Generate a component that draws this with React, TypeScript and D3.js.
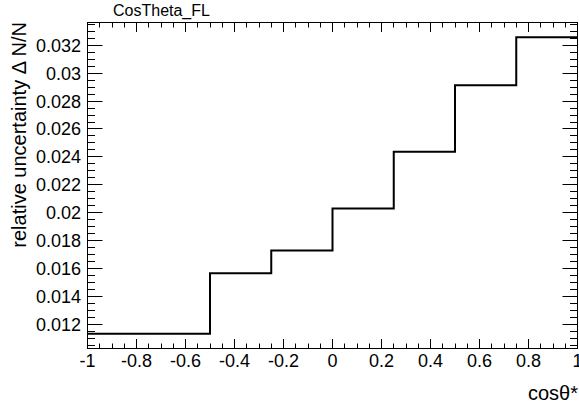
import React from "react";
import * as d3 from "d3";

const binEdges = [-1, -0.5, -0.25, 0, 0.25, 0.5, 0.75, 1];
const binValues = [0.01128, 0.01562, 0.01724, 0.02026, 0.02434, 0.0291, 0.03254];
const chartTitle = "CosTheta_FL";
const xTitle = "cosθ*";
const yTitle = "relative uncertainty Δ N/N";

const W = 579;
const H = 408;
const L = 87.5;
const R = 577.5;
const T = 22.5;
const B = 348.5;
const FONT = "'Liberation Sans', Arial, Helvetica, sans-serif";

export default function App() {
  const vmin = d3.min(binValues) as number;
  const vmax = d3.max(binValues) as number;
  const pad = 0.05 * (vmax - vmin);
  const x = d3.scaleLinear().domain([-1, 1]).range([L, R]);
  const y = d3.scaleLinear().domain([vmin - pad, vmax + pad]).range([B, T]);

  // step path
  const pts: [number, number][] = [];
  binValues.forEach((v, i) => {
    pts.push([binEdges[i], v]);
    pts.push([binEdges[i + 1], v]);
  });
  const line = d3
    .line<[number, number]>()
    .x((d) => x(d[0]))
    .y((d) => y(d[1]));

  const [d0, d1] = y.domain();
  const yStep = 0.0005;
  const yTicks: { v: number; major: boolean }[] = [];
  for (let k = Math.ceil(d0 / yStep); k <= Math.floor(d1 / yStep); k++) {
    yTicks.push({ v: k * yStep, major: k % 4 === 0 });
  }
  const xStep = 0.05;
  const xTicks: { v: number; major: boolean }[] = [];
  for (let k = -20; k <= 20; k++) {
    xTicks.push({ v: k * xStep, major: k % 4 === 0 });
  }

  return (
    <svg
      width={W}
      height={H}
      style={{ position: "absolute", left: 0, top: 0, background: "#fff" }}
      fontFamily={FONT}
    >
      <rect x={0} y={0} width={W} height={H} fill="#fff" />
      <text x={113} y={15.5} fontSize={16} fill="#000">
        {chartTitle}
      </text>
      {/* y ticks */}
      {yTicks.map((t, i) => {
        const yy = Math.round(y(t.v)) + 0.5;
        const len = t.major ? 15 : 7.5;
        return (
          <g key={"y" + i}>
            <line x1={L} x2={L + len} y1={yy} y2={yy} stroke="#000" strokeWidth={1} />
            <line x1={R} x2={R - len} y1={yy} y2={yy} stroke="#000" strokeWidth={1} />
            {t.major && (
              <text x={81} y={yy} fontSize={18} textAnchor="end" dominantBaseline="central" fill="#000">
                {String(+t.v.toFixed(3))}
              </text>
            )}
          </g>
        );
      })}
      {/* x ticks */}
      {xTicks.map((t, i) => {
        const xx = Math.round(x(t.v) - 0.5) + 0.5;
        const len = t.major ? 9.5 : 5;
        return (
          <g key={"x" + i}>
            <line x1={xx} x2={xx} y1={B} y2={B - len} stroke="#000" strokeWidth={1} />
            <line x1={xx} x2={xx} y1={T} y2={T + len} stroke="#000" strokeWidth={1} />
            {t.major && (
              <text x={xx} y={366.5} fontSize={18} textAnchor="middle" fill="#000">
                {String(+t.v.toFixed(1))}
              </text>
            )}
          </g>
        );
      })}
      <rect x={L} y={T} width={R - L} height={B - T} fill="none" stroke="#000" strokeWidth={1} />
      <path d={line(pts) || ""} fill="none" stroke="#000" strokeWidth={2} />
      <text x={578} y={400} fontSize={20} textAnchor="end" fill="#000">
        {xTitle}
      </text>
      <text
        transform={`translate(26,22) rotate(-90)`}
        fontSize={20}
        textAnchor="end"
        fill="#000"
      >
        {yTitle}
      </text>
    </svg>
  );
}
